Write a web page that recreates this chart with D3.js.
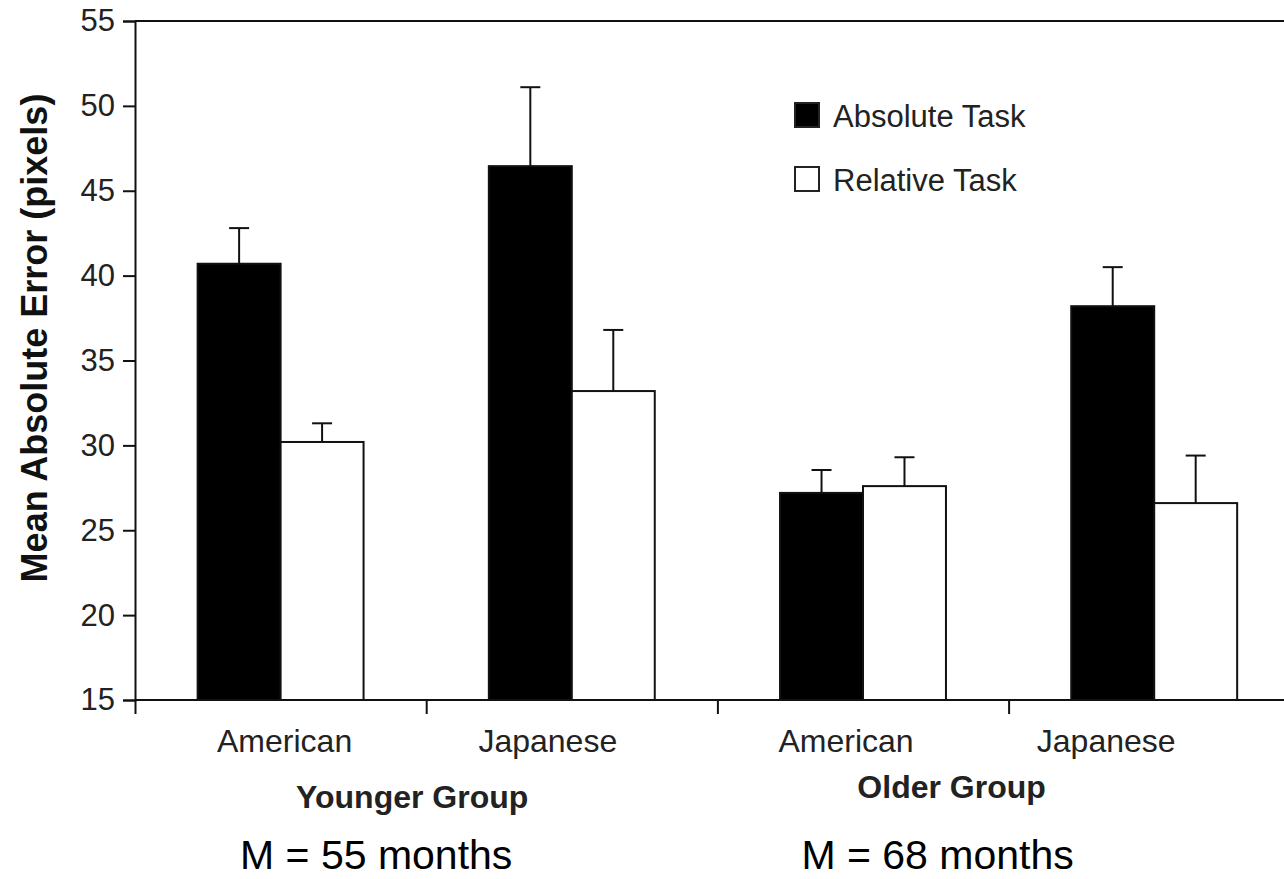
<!DOCTYPE html>
<html><head><meta charset="utf-8">
<script src="https://cdn.jsdelivr.net/npm/d3@7"></script>
<style>body{margin:0;background:#fff}svg{display:block;font-family:"Liberation Sans",Arial,sans-serif}</style>
</head><body><svg id="c" width="1284" height="879"></svg>
<script>
const categories = ["American","Japanese","American","Japanese"];
const groups = ["Younger Group","Older Group"];
const ageLabels = ["M = 55 months","M = 68 months"];
const series = ["Absolute Task","Relative Task"];
const absoluteMean = [40.7, 46.45, 27.2, 38.2];
const absoluteErr  = [2.1, 4.65, 1.35, 2.3];
const relativeMean = [30.2, 33.2, 27.6, 26.6];
const relativeErr  = [1.1, 3.6, 1.7, 2.8];
const yTicks = [15,20,25,30,35,40,45,50,55];

const svg = d3.select("#c");
const x0 = 135, yTop = 21, yBot = 700, step = 291.2;
const keys = categories.map((c,i)=>i);
const x = d3.scaleBand().domain(keys).range([x0, x0 + step*4]).padding(0);
const xs = d3.scaleBand().domain(series).range([0, x.bandwidth()]).paddingInner(0).paddingOuter(0.755);
const y = d3.scaleLinear().domain([15,55]).range([yBot, yTop]);

const data = [];
keys.forEach(i=>{
  data.push({i, s:series[0], v:absoluteMean[i], e:absoluteErr[i]});
  data.push({i, s:series[1], v:relativeMean[i], e:relativeErr[i]});
});

// frame lines
svg.append("line").attr("x1",x0).attr("x2",1300).attr("y1",y(55)).attr("y2",y(55)).attr("stroke","#111").attr("stroke-width",2);
svg.append("line").attr("x1",x0).attr("x2",1300).attr("y1",y(15)).attr("y2",y(15)).attr("stroke","#111").attr("stroke-width",2);

// error bars
const eb = svg.append("g").attr("stroke","#111").attr("stroke-width",2);
data.forEach(d=>{
  const cx = x(d.i) + xs(d.s) + xs.bandwidth()/2;
  eb.append("line").attr("x1",cx).attr("x2",cx).attr("y1",y(d.v)).attr("y2",y(d.v+d.e));
  eb.append("line").attr("x1",cx-10).attr("x2",cx+10).attr("y1",y(d.v+d.e)).attr("y2",y(d.v+d.e));
});

// bars
svg.append("g").selectAll("rect").data(data).join("rect")
  .attr("x", d=>x(d.i)+xs(d.s)).attr("width", xs.bandwidth())
  .attr("y", d=>y(d.v)).attr("height", d=>y(15)-y(d.v))
  .attr("fill", d=>d.s===series[0]?"#000":"#fff")
  .attr("stroke","#111").attr("stroke-width",2);

// y axis
const ya = svg.append("g").attr("transform",`translate(${x0},0)`)
  .call(d3.axisLeft(y).tickValues(yTicks).tickSize(12).tickPadding(8));
ya.select(".domain").attr("stroke","#111").attr("stroke-width",2);
ya.selectAll(".tick line").attr("stroke","#111").attr("stroke-width",2);
ya.selectAll(".tick text").attr("font-size",31).attr("fill","#222").attr("font-family","Liberation Sans, Arial, sans-serif");

// x axis ticks (group boundaries)
const xb = d3.scaleLinear().domain([0,4]).range([x0, x0+step*4]);
const xa = svg.append("g").attr("transform",`translate(0,${yBot})`)
  .call(d3.axisBottom(xb).tickValues([0,1,2,3]).tickSize(14).tickFormat(""));
xa.select(".domain").remove();
xa.selectAll(".tick line").attr("stroke","#111").attr("stroke-width",2);

// category labels
const labelOffset = [4, -24, -17, -48];
svg.append("g").selectAll("text").data(keys).join("text")
  .attr("x", i=>x(i)+x.bandwidth()/2+labelOffset[i]).attr("y", 752)
  .attr("text-anchor","middle").attr("font-size",32).attr("fill","#222")
  .text(i=>categories[i]);

// group labels
const gx = [x(0)+x.bandwidth()-14, x(2)+x.bandwidth()-57];
const gy = [808, 798];
svg.append("g").selectAll("text").data(groups).join("text")
  .attr("x",(d,i)=>gx[i]).attr("y",(d,i)=>gy[i])
  .attr("text-anchor","middle").attr("font-size",32).attr("font-weight","bold").attr("fill","#222")
  .text(d=>d);

// age labels
const ax = [x(0)+x.bandwidth()-50, x(2)+x.bandwidth()-71];
svg.append("g").selectAll("text").data(ageLabels).join("text")
  .attr("x",(d,i)=>ax[i]).attr("y",869)
  .attr("text-anchor","middle").attr("font-size",41).attr("fill","#000")
  .text(d=>d);

// y title
svg.append("text").attr("transform","translate(47,338) rotate(-90)")
  .attr("text-anchor","middle").attr("font-size",36).attr("font-weight","bold").attr("fill","#111")
  .text("Mean Absolute Error (pixels)");

// legend
const lg = svg.append("g").attr("transform","translate(795,0)");
series.forEach((s,i)=>{
  const yy = 103 + i*64;
  lg.append("rect").attr("x",0).attr("y",yy).attr("width",24).attr("height",24)
    .attr("fill", i===0?"#000":"#fff").attr("stroke","#222").attr("stroke-width",2);
  lg.append("text").attr("x",38).attr("y",yy+24).attr("font-size",31).attr("fill","#222").text(s);
});
</script></body></html>
